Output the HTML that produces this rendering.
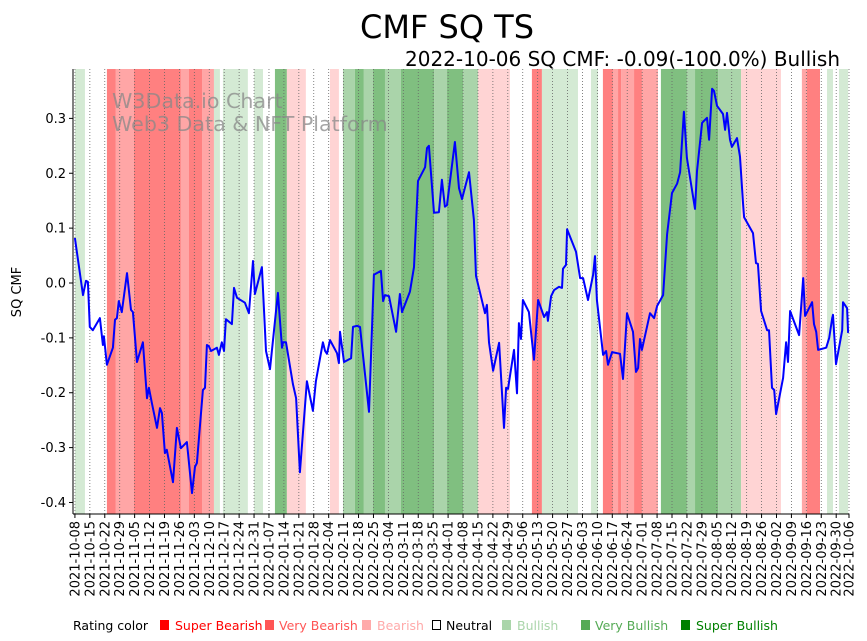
<!DOCTYPE html>
<html><head><meta charset="utf-8">
<style>
body{margin:0;background:#fff;width:867px;height:641px;overflow:hidden;font-family:"DejaVu Sans","Liberation Sans",sans-serif;}
svg{position:absolute;left:0;top:0}
</style></head>
<body>
<svg id="chart" width="867" height="641">
<text x="447" y="38" font-size="32" text-anchor="middle" fill="#000">CMF SQ TS</text>
<text x="840" y="66" font-size="20" text-anchor="end" fill="#000">2022-10-06 SQ CMF: -0.09(-100.0%) Bullish</text>
<g id="bands"></g>
<g id="grid"></g>
<text x="112" y="108" font-size="20.6" fill="#888" fill-opacity="0.75">W3Data.io Chart</text>
<text x="112" y="131" font-size="20.6" fill="#888" fill-opacity="0.75">Web3 Data &amp; NFT Platform</text>
<path id="line" fill="none" stroke="#0000ff" stroke-width="2" stroke-linejoin="round"/>
<line x1="73" y1="69" x2="73" y2="514" stroke="#000" stroke-width="1"/>
<line x1="73" y1="514" x2="849" y2="514" stroke="#000" stroke-width="1"/>
<g id="yticks"></g>
<g id="xticks"></g>
<text transform="translate(21,292) rotate(-90)" font-size="13" text-anchor="middle">SQ CMF</text>
<g font-size="12.5">
<text x="73" y="630" fill="#000">Rating color</text>
<rect x="160" y="620" width="9" height="10" fill="#ff0000"/>
<text x="175" y="630" fill="#ff0000">Super Bearish</text>
<rect x="265" y="620" width="9" height="10" fill="#ff5555"/>
<text x="279" y="630" fill="#ff5555">Very Bearish</text>
<rect x="362" y="620" width="9" height="10" fill="#ffaaaa"/>
<text x="377" y="630" fill="#ffaaaa">Bearish</text>
<rect x="432.5" y="620.5" width="8" height="9" fill="none" stroke="#000"/>
<text x="446" y="630" fill="#000">Neutral</text>
<rect x="502" y="620" width="9" height="10" fill="#aad5aa"/>
<text x="517" y="630" fill="#aad5aa">Bullish</text>
<rect x="581" y="620" width="9" height="10" fill="#55aa55"/>
<text x="595" y="630" fill="#55aa55">Very Bullish</text>
<rect x="681" y="620" width="9" height="10" fill="#008000"/>
<text x="696" y="630" fill="#008000">Super Bullish</text>
</g>
</svg>
<script>
// day offsets from 2021-10-08
const lineDays=[0,3.8,5.2,6.1,7.0,8.4,11.7,13.1,13.6,15.0,17.8,18.8,19.7,20.6,22.0,24.4,26.3,27.2,29.1,31.9,33.8,34.7,36.1,38.5,39.9,40.8,42.2,43.1,46.0,47.8,49.7,52.5,54.9,56.3,57.2,60.0,61.0,61.9,62.8,63.8,66.6,67.5,68.9,69.9,70.8,73.6,74.6,76.0,79.7,81.6,83.5,84.4,87.7,89.6,91.5,95.2,97.1,97.6,99.0,102.2,103.7,105.5,108.8,111.6,113.0,116.3,117.3,118.2,119.6,122.9,123.8,124.3,126.2,129.5,130.4,132.3,133.7,137.9,140.2,143.5,144.5,145.4,147.3,150.6,152.4,153.4,157.1,159.0,160.9,164.2,165.1,166.0,168.4,170.7,172.1,173.5,174.5,178.2,180.1,181.5,184.8,187.1,188.1,192.3,193.2,194.2,196.1,198.9,201.2,202.2,203.1,205.9,207.3,208.2,209.2,210.1,212.9,215.3,217.2,220.0,221.4,221.8,223.3,224.7,227.0,228.4,228.9,230.3,230.8,235.0,236.9,238.3,240.6,243.0,243.9,244.8,247.7,249.1,250.0,251.9,255.6,257.0,258.9,261.7,263.1,264.1,265.0,265.9,269.7,271.6,273.0,275.8,277.7,280.0,282.4,283.8,285.6,287.0,290.8,291.7,294.1,296.4,297.4,298.8,299.7,301.1,303.9,304.9,305.8,307.2,308.1,310.5,311.9,313.3,313.8,318.0,319.4,320.3,321.8,324.6,325.5,326.9,327.9,328.8,332.1,333.5,334.4,335.4,339.6,341.5,342.4,345.7,346.6,347.6,348.5,352.3,353.7,355.1,355.5,356.9,359.8,360.2,362.1,362.6];
const lineValues=[0.082,-0.022,0.004,0.002,-0.080,-0.086,-0.064,-0.113,-0.097,-0.149,-0.118,-0.067,-0.064,-0.033,-0.053,0.018,-0.049,-0.053,-0.144,-0.108,-0.210,-0.191,-0.219,-0.264,-0.228,-0.237,-0.310,-0.304,-0.363,-0.264,-0.301,-0.290,-0.383,-0.335,-0.328,-0.195,-0.191,-0.113,-0.115,-0.124,-0.118,-0.131,-0.108,-0.124,-0.066,-0.075,-0.009,-0.027,-0.036,-0.055,0.040,-0.020,0.029,-0.124,-0.157,-0.018,-0.118,-0.108,-0.108,-0.184,-0.210,-0.345,-0.179,-0.233,-0.179,-0.108,-0.124,-0.129,-0.104,-0.128,-0.146,-0.089,-0.144,-0.137,-0.080,-0.078,-0.080,-0.235,0.015,0.022,-0.033,-0.022,-0.024,-0.089,-0.020,-0.053,-0.016,0.029,0.186,0.211,0.246,0.250,0.128,0.129,0.188,0.139,0.142,0.257,0.173,0.153,0.202,0.115,0.013,-0.055,-0.040,-0.108,-0.160,-0.109,-0.264,-0.191,-0.193,-0.122,-0.201,-0.073,-0.102,-0.031,-0.053,-0.140,-0.031,-0.062,-0.053,-0.069,-0.024,-0.013,-0.007,-0.009,0.026,0.033,0.098,0.057,0.009,0.009,-0.031,0.015,0.049,-0.031,-0.131,-0.124,-0.149,-0.126,-0.129,-0.175,-0.055,-0.089,-0.162,-0.155,-0.102,-0.122,-0.055,-0.064,-0.042,-0.022,0.089,0.164,0.181,0.202,0.312,0.228,0.135,0.204,0.292,0.301,0.261,0.354,0.350,0.323,0.308,0.279,0.310,0.261,0.248,0.264,0.230,0.146,0.120,0.091,0.036,0.035,-0.051,-0.086,-0.086,-0.191,-0.195,-0.239,-0.173,-0.108,-0.144,-0.051,-0.095,0.009,-0.060,-0.035,-0.075,-0.089,-0.122,-0.118,-0.100,-0.064,-0.058,-0.148,-0.086,-0.035,-0.046,-0.091];
// rating bands: start day, end day, rating (-3..3)
const bandStarts=[0,15.0,19.2,27.7,49.7,53.5,59.6,65.2,69.4,84.0,93.8,99.4,119.6,125.7,131.3,135.5,139.8,145.4,152.9,168.4,174.5,182.0,189.0,214.3,219.0,242.0,247.6,252.3,254.7,256.1,262.2,265.9,274.8,287.0,290.8,301.6,312.4,340.9,343.3,352.7,358.3];
const bandEnds=[4.7,19.2,27.7,49.7,53.5,59.6,65.2,68.0,81.1,88.2,99.4,108.3,123.8,131.3,135.5,139.8,145.4,152.9,168.4,174.5,182.0,189.0,204.0,219.0,235.9,245.3,252.3,254.7,256.1,262.2,265.9,273.4,287.0,290.8,301.6,312.4,331.1,343.3,349.4,355.5,362.6];
const bandRatings=[1,-3,-2,-3,-2,-3,-2,1,1,1,3,-1,-1,2,3,2,3,2,3,2,3,2,-1,-3,1,1,-3,-2,-3,-2,-3,-2,3,2,3,2,-1,-2,-3,1,1];
const yTicks=[0.3,0.2,0.1,0.0,-0.1,-0.2,-0.3,-0.4];

const NS='http://www.w3.org/2000/svg';
const X0=73,X1=849,DMIN=-0.9,DMAX=363;
const Y0=69,Y1=514,VMAX=0.39,VMIN=-0.421;
function xs(d){return X0+(d-DMIN)/(DMAX-DMIN)*(X1-X0);}
function ys(v){return Y0+(VMAX-v)/(VMAX-VMIN)*(Y1-Y0);}
const colorFor={'-3':'#ff8080','-2':'#ffa6a6','-1':'#ffd4d4','1':'#d4ead4','2':'#aad4aa','3':'#80bf80'};

const bandsG=document.getElementById('bands');
for(let i=0;i<bandStarts.length;i++){
  const r=document.createElementNS(NS,'rect');
  r.setAttribute('x',xs(bandStarts[i]));
  r.setAttribute('y',Y0);
  r.setAttribute('width',Math.max(0,xs(bandEnds[i])-xs(bandStarts[i])));
  r.setAttribute('height',Y1-Y0);
  r.setAttribute('fill',colorFor[String(bandRatings[i])]);
  
  
  bandsG.appendChild(r);
}

let dstr='';
for(let i=0;i<lineDays.length;i++){dstr+=(i?'L':'M')+xs(lineDays[i]).toFixed(1)+','+ys(lineValues[i]).toFixed(1);}
document.getElementById('line').setAttribute('d',dstr);

const yt=document.getElementById('yticks');
yTicks.forEach(v=>{
  const y=ys(v);
  const l=document.createElementNS(NS,'line');
  l.setAttribute('x1',X0-4);l.setAttribute('x2',X0);l.setAttribute('y1',y);l.setAttribute('y2',y);l.setAttribute('stroke','#000');
  
  
  yt.appendChild(l);
  const t=document.createElementNS(NS,'text');
  t.setAttribute('x',X0-7);t.setAttribute('y',y+4.5);t.setAttribute('text-anchor','end');t.setAttribute('font-size','13');
  t.textContent=v.toFixed(1);
  
  
  yt.appendChild(t);
});

const xt=document.getElementById('xticks'),gridG=document.getElementById('grid');
const base=Date.UTC(2021,9,8);
const tickDays=[];for(let d=0;d<=357;d+=7)tickDays.push(d);tickDays.push(363);
tickDays.forEach(d=>{
  const x=xs(d);
  const dt=new Date(base+d*86400000);
  const lbl=dt.getUTCFullYear()+'-'+String(dt.getUTCMonth()+1).padStart(2,'0')+'-'+String(dt.getUTCDate()).padStart(2,'0');
  const g=document.createElementNS(NS,'line');
  g.setAttribute('x1',x);g.setAttribute('x2',x);g.setAttribute('y1',Y0);g.setAttribute('y2',Y1);
  g.setAttribute('stroke','#666');g.setAttribute('stroke-width','0.8');g.setAttribute('stroke-dasharray','1,2');
  
  
  gridG.appendChild(g);
  const l=document.createElementNS(NS,'line');
  l.setAttribute('x1',x);l.setAttribute('x2',x);l.setAttribute('y1',Y1);l.setAttribute('y2',Y1+4);l.setAttribute('stroke','#000');
  
  
  xt.appendChild(l);
  const t=document.createElementNS(NS,'text');
  t.setAttribute('transform','translate('+(x+4.5)+','+(Y1+7)+') rotate(-90)');
  t.setAttribute('text-anchor','end');t.setAttribute('font-size','13');
  t.textContent=lbl;
  
  
  xt.appendChild(t);
});
</script>
</body></html>
